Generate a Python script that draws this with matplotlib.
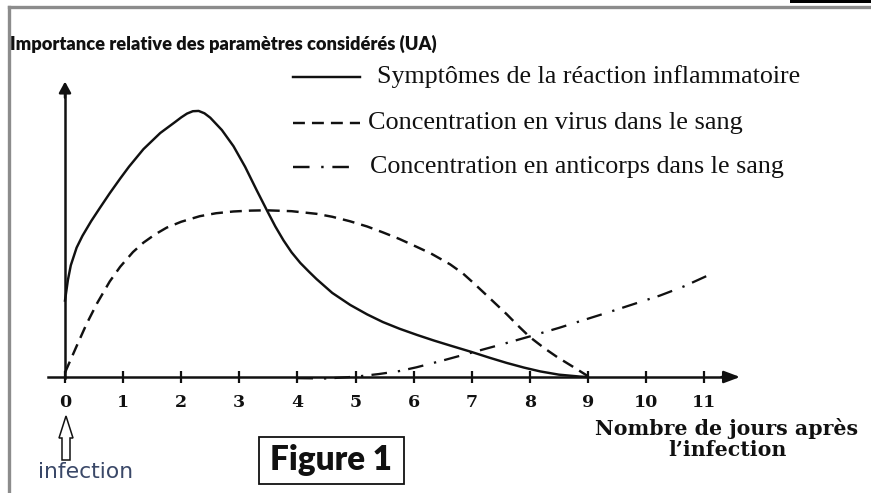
import matplotlib
matplotlib.use("Agg")
import matplotlib.pyplot as plt
from matplotlib.lines import Line2D
from matplotlib.patches import FancyArrow, Rectangle

# ---------------- data ----------------
tick_days = list(range(0, 12))
tick_labels = [str(d) for d in tick_days]

symptom_days = [0, 0.05, 0.1, 0.2, 0.3, 0.45, 0.6, 0.77, 0.95, 1.1, 1.35, 1.64,
                1.9, 2.0, 2.1, 2.2, 2.3, 2.4, 2.5, 2.7, 2.9, 3.1, 3.3, 3.48,
                3.62, 3.76, 3.9, 4.05, 4.2, 4.33, 4.6, 4.91, 5.2, 5.47, 5.76,
                6.06, 6.35, 6.63, 7.0, 7.3, 7.6, 7.9, 8.18, 8.5, 8.86, 9.0]
symptom_vals = [26, 33, 38, 44, 48, 53, 57.5, 62.5, 67.5, 71.5, 77.5, 83,
                86.8, 88.3, 89.6, 90.4, 90.5, 89.7, 88.2, 84, 78.5, 71.5, 63.5, 56.5,
                51.2, 46.5, 42.4, 38.8, 35.8, 33.3, 28.6, 24.5, 21.3, 18.7, 16.4,
                14.3, 12.4, 10.7, 8.5, 6.6, 4.8, 3.2, 1.9, 0.8, 0.15, 0]

virus_days = [0, 0.2, 0.37, 0.55, 0.77, 0.95, 1.17, 1.35, 1.55, 1.75, 2.0, 2.32,
              2.6, 2.9, 3.2, 3.47, 3.9, 4.33, 4.6, 4.9, 5.2, 5.47, 5.75, 6.05,
              6.3, 6.63, 6.85, 7.03, 7.3, 7.6, 7.8, 8.0, 8.25, 8.47, 8.75, 9.0]
virus_vals = [1.5, 10.5, 18, 25, 32.5, 37.5, 42.5, 45.7, 48.5, 50.8, 52.8, 54.7,
              55.7, 56.3, 56.6, 56.7, 56.4, 55.5, 54.5, 53, 51.2, 49.2, 47, 44.3,
              42, 38.3, 35.2, 32, 27, 21.4, 17.4, 13.6, 9.8, 6.8, 3.4, 0.3]

antibody_days = [4.0, 4.5, 5.0, 5.4, 5.75, 6.05, 6.5, 7.0, 7.5, 8.0, 8.5, 8.9,
                 9.4, 9.85, 10.24, 10.65, 11.05]
antibody_vals = [-0.4, -0.5, 0.1, 1, 2, 3.3, 5.6, 8.3, 11, 13.8, 16.7, 19.2,
                 22.3, 25.2, 27.7, 30.8, 34.4]

series_labels = ["Symptômes de la réaction inflammatoire",
                 "Concentration en virus dans le sang",
                 "Concentration en anticorps dans le sang"]
y_title = "Importance relative des paramètres considérés (UA)"
x_title_1 = "Nombre de jours après"
x_title_2 = "l\u2019infection"

# ---------------- layout ----------------
W, H = 871, 493
fig = plt.figure(figsize=(W / 100, H / 100), dpi=100)
fig.patch.set_facecolor("white")

def fx(px):
    return px / W

def fy(py):
    return 1 - py / H

X0, XS = 65.0, 58.1      # pixel of day 0, pixels per day
Y0, YS = 377.0, 2.94     # pixel of value 0, pixels per unit
xlim = (-0.5, 12.0)
ylim = (-5.0, 105.0)
left_px = X0 + xlim[0] * XS
right_px = X0 + xlim[1] * XS
bot_px = Y0 - ylim[0] * YS
top_px = Y0 - ylim[1] * YS
ax = fig.add_axes([fx(left_px), fy(bot_px), (right_px - left_px) / W,
                   (bot_px - top_px) / H])
ax.set_xlim(*xlim)
ax.set_ylim(*ylim)
ax.patch.set_alpha(0)

LW = 1.75
INK = "#111111"
DASH = (4.9, 2.9)
DASHDOT = (6.8, 4.8, 1.0, 3.6)

ax.plot(symptom_days, symptom_vals, color=INK, lw=LW, solid_joinstyle="round",
        clip_on=False, zorder=3)
ax.plot(virus_days, virus_vals, color=INK, lw=LW, dashes=DASH, clip_on=False,
        zorder=3)
ax.plot(antibody_days, antibody_vals, color=INK, lw=LW - 0.1, dashes=DASHDOT,
        clip_on=False, zorder=3)

# axes lines
for s in ["top", "right"]:
    ax.spines[s].set_visible(False)
ax.spines["bottom"].set_position(("data", 0))
ax.spines["left"].set_position(("data", 0))
ax.spines["bottom"].set_bounds(-0.3, 11.4)
ax.spines["left"].set_bounds(-0.3, 97)
for s in ["bottom", "left"]:
    ax.spines[s].set_linewidth(1.8)
    ax.spines[s].set_color(INK)
ax.annotate("", xy=(11.62, 0), xytext=(11.3, 0),
            arrowprops=dict(arrowstyle="-|>,head_length=0.8,head_width=0.3",
                            color=INK, lw=1.8, mutation_scale=12,
                            shrinkA=0, shrinkB=0), annotation_clip=False)
ax.annotate("", xy=(0, 100.5), xytext=(0, 95),
            arrowprops=dict(arrowstyle="-|>,head_length=0.55,head_width=0.3",
                            color=INK, lw=1.8, mutation_scale=12,
                            shrinkA=0, shrinkB=0), annotation_clip=False)

ax.set_yticks([])
ax.set_xticks(tick_days)
ax.set_xticklabels(tick_labels, fontfamily="DejaVu Serif", fontweight="bold",
                   fontsize=12.5, color=INK)
ax.tick_params(axis="x", direction="inout", length=9, width=1.6, pad=7.5,
               color=INK)

# ---------------- text helpers ----------------
renderer = fig.canvas.get_renderer()

def fit_width(t, target_w):
    w = t.get_window_extent(renderer).width
    t.set_fontsize(t.get_fontsize() * target_w / w)

# title (y axis label)
t_title = fig.text(fx(10), fy(44), y_title, ha="left", va="center",
                   fontfamily=["Lato", "DejaVu Sans"], fontweight="heavy",
                   fontsize=12, color=INK)
fit_width(t_title, 425)

# legend (manual)
leg_rows = [(77, 377, 423, None), (123, 368, 374, DASH), (167, 370, 413, DASHDOT)]
for (py, tx, tw, dsh), lab in zip(leg_rows, series_labels):
    kw = dict(color=INK, lw=LW, transform=fig.transFigure)
    if dsh is not None:
        kw["dashes"] = dsh
    fig.add_artist(Line2D([fx(293), fx(360)], [fy(py), fy(py)], **kw))
    t = fig.text(fx(tx), fy(py), lab, ha="left", va="center",
                 fontfamily="Liberation Serif", fontsize=18, color=INK)
    fit_width(t, tw)

# x axis title
fig.text(fx(727), fy(435), x_title_1, ha="center", va="baseline",
         fontfamily="DejaVu Serif", fontweight="bold", fontsize=14.8,
         color=INK)
fig.text(fx(727), fy(456), x_title_2, ha="center", va="baseline",
         fontfamily="DejaVu Serif", fontweight="bold", fontsize=14.8,
         color=INK)

# infection arrow + label
fig.add_artist(FancyArrow(fx(66), fy(460), 0, fy(416) - fy(460),
                          width=8 / W, head_width=14 / W, head_length=22 / H,
                          length_includes_head=True, facecolor="white",
                          edgecolor=INK, lw=1.1, transform=fig.transFigure))
t_inf = fig.text(fx(38), fy(472), "infection", ha="left", va="center",
                 fontfamily="DejaVu Sans", fontsize=13, color="#3a4868")
fit_width(t_inf, 95)

# Figure 1 box
fig.add_artist(Rectangle((fx(259), fy(484)), (404 - 259) / W, (484 - 437) / H,
                         transform=fig.transFigure, facecolor="white",
                         edgecolor=INK, lw=1.3))
t_fig = fig.text(fx(331), fy(460), "Figure 1", ha="center", va="center",
                 fontfamily=["Lato", "DejaVu Sans"], fontweight="heavy",
                 fontsize=20, color=INK)
fit_width(t_fig, 122)

# page frame
fig.add_artist(Line2D([fx(9), fx(9)], [fy(493), fy(7)], color="#8c8c8c",
                      lw=2.4, transform=fig.transFigure))
fig.add_artist(Line2D([fx(9), fx(871)], [fy(7), fy(7)], color="#8c8c8c",
                      lw=2.4, transform=fig.transFigure))
fig.add_artist(Rectangle((fx(790), fy(2.5)), (871 - 790) / W, 2.5 / H,
                         transform=fig.transFigure, facecolor="black",
                         edgecolor="none"))

fig.savefig("out.png", dpi=100, facecolor="white")
